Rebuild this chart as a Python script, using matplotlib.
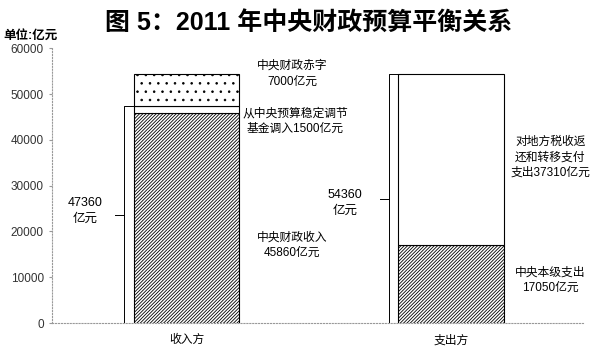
import matplotlib

matplotlib.use("Agg")
import matplotlib.pyplot as plt
import numpy as np

plt.rcParams["font.family"] = ["Liberation Sans", "Noto Sans CJK SC"]
plt.rcParams["hatch.linewidth"] = 0.6

# data (unit: 100 million yuan)
sides = ["收入方", "支出方"]
income_parts = [45860, 1500, 7000]
income_labels = ["中央财政收入\n45860亿元", "从中央预算稳定调节\n基金调入1500亿元", "中央财政赤字\n7000亿元"]
spend_parts = [17050, 37310]
spend_labels = ["中央本级支出\n17050亿元", "对地方税收返\n还和转移支付\n支出37310亿元"]
yticks = np.arange(0, 60001, 10000)

income_hatch = ["//////////", "", ".."]
spend_hatch = ["//////////", ""]

fig = plt.figure(figsize=(6.0, 3.57), dpi=100)
ax = fig.add_axes([0.0867, 0.095, 0.885, 0.770])

x = np.arange(len(sides))
width = 0.4

# stacked bars
bottom = 0
for val, h in zip(income_parts, income_hatch):
    ax.bar(x[0], val, width, bottom=bottom, color="white", edgecolor="black",
           hatch=h, linewidth=0.8)
    bottom += val
bottom = 0
for val, h in zip(spend_parts, spend_hatch):
    ax.bar(x[1], val, width, bottom=bottom, color="white", edgecolor="black",
           hatch=h, linewidth=0.8)
    bottom += val

# brackets showing totals
def bracket(xc, top, label, tx, dy, gap=0.035, tick=0.035):
    xl = xc - width / 2 - gap
    ax.plot([xc - width / 2, xl, xl, xc - width / 2], [top, top, 0, 0],
            color="black", lw=0.7)
    ax.plot([xl - tick, xl], [top / 2, top / 2], color="black", lw=0.7)
    ax.text(tx, top / 2 + dy, label, ha="center", va="center",
            fontsize=9, linespacing=1.45)
    return

income_total = income_parts[0] + income_parts[1]
spend_total = sum(spend_parts)
bracket(x[0], income_total, f"{income_total}\n亿元", -0.384, 760)
bracket(x[1], spend_total, f"{spend_total}\n亿元", 0.599, -980)

# segment annotations
label_x = [0.40, 0.41, 0.40]
label_y = [17000, 44100, 54400]
for lx, ly, lab in zip(label_x, label_y, income_labels):
    ax.text(lx, ly, lab, ha="center", va="center", fontsize=8.5, linespacing=1.4)

spend_x = [1.375, 1.375]
spend_y = [9400, 36200]
for lx, ly, lab in zip(spend_x, spend_y, spend_labels):
    ax.text(lx, ly, lab, ha="center", va="center", fontsize=8.5, linespacing=1.4)

ax.set_xlim(-0.5085, 1.499)
ax.set_ylim(0, 60000)
ax.set_xticks(x)
ax.set_xticklabels(sides, fontsize=8.5)
ax.tick_params(axis="x", length=0, pad=8)
ax.set_yticks(yticks)
ax.set_yticklabels([str(v) for v in yticks], fontsize=8.5, color="#333333")
ax.tick_params(axis="y", length=2.5, color="#999999", pad=3.5)

for side in ["top", "right"]:
    ax.spines[side].set_visible(False)
for side in ["left", "bottom"]:
    ax.spines[side].set_color("#999999")
    ax.spines[side].set_linestyle(":")
    ax.spines[side].set_linewidth(0.8)

fig.text(0.005, 0.899, "单位:亿元", fontsize=9, fontweight="bold", va="center")
fig.text(0.515, 0.935, "图 5：2011 年中央财政预算平衡关系", ha="center", va="center",
         fontsize=18, fontweight="bold")

fig.savefig("out.png", dpi=100, facecolor="white")
plt.close()
